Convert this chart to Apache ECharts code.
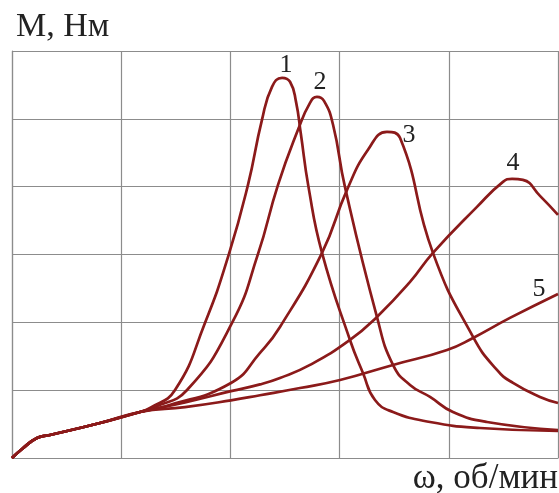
<!DOCTYPE html>
<html>
<head>
<meta charset="utf-8">
<script src="https://cdn.jsdelivr.net/npm/echarts@6/dist/echarts.min.js"></script>
<style>
html,body{margin:0;padding:0;background:#fff;}
#c{width:559px;height:493px;}
</style>
</head>
<body>
<div id="c"></div>
<script>
// Shared starting part of all curves [omega, M] in grid units
var common = [[0,0],[0.092,0.133],[0.229,0.295],[0.348,0.339],[0.806,0.516],[1.172,0.678]];

var curve1 = [[1.264,0.737],[1.493,1.003],[1.767,1.991],[1.987,3.009],[2.161,4.027],[2.289,4.985],[2.381,5.472],[2.473,5.605],[2.546,5.546],[2.601,5.250],[2.645,4.780],[2.715,3.997],[2.839,3.024],[3.095,1.740],[3.214,1.254],[3.324,0.855],[3.489,0.678],[3.828,0.531],[4.286,0.442],[5.0,0.398]];
var curve2 = [[1.310,0.752],[1.603,1.003],[2.015,1.991],[2.253,3.009],[2.436,4.027],[2.619,4.838],[2.729,5.236],[2.793,5.324],[2.857,5.265],[2.940,4.912],[3.049,3.997],[3.342,2.080],[3.489,1.372],[3.645,1.077],[3.828,0.900],[4.038,0.678],[4.350,0.531],[5.0,0.413]];
var curve3 = [[1.401,0.760],[2.005,1.106],[2.271,1.549],[2.454,1.932],[2.839,3.024],[3.068,3.953],[3.260,4.543],[3.434,4.808],[3.553,4.720],[3.855,3.024],[4.222,1.785],[4.441,1.298],[4.588,1.106],[4.835,0.900],[5.0,0.811]];
var curve4 = [[1.584,0.820],[2.005,0.985],[2.271,1.085],[2.454,1.180],[2.729,1.372],[3.095,1.740],[3.342,2.080],[3.645,2.596],[3.855,3.024],[4.258,3.702],[4.496,4.071],[4.579,4.115],[4.679,4.100],[4.835,3.864],[5.0,3.584]];
var curve5 = [[1.584,0.750],[2.005,0.850],[2.271,0.925],[2.637,1.032],[3.004,1.150],[3.489,1.372],[3.984,1.593],[4.222,1.770],[4.560,2.065],[5.0,2.419]];

var curveLabels = ['1','2','3','4','5'];
var yTitle = 'М, Нм';
var xTitle = 'ω, об/мин';

var curves = [curve1, curve2, curve3, curve4, curve5];
var lineColor = '#8b1a1a';
var gridColor = '#8c8c8c';

var chart = echarts.init(document.getElementById('c'), null, {renderer:'canvas'});
var series = curves.map(function(c, i){
  return {
    type:'line', name: curveLabels[i],
    data: common.concat(c),
    smooth: 0.5,
    showSymbol:false, symbol:'none',
    lineStyle:{color:lineColor, width:2.7},
    silent:true, animation:false
  };
});
var labelPos = [[286,65],[320,82],[409,135],[513,163],[539,289]];
var serif = '"Liberation Serif","Times New Roman",serif';
var graphics = labelPos.map(function(p,i){
  return {type:'text', x:p[0], y:p[1], style:{text:curveLabels[i], font:'26px '+serif, fill:'#222', align:'center', verticalAlign:'middle'}};
});
graphics.push({type:'text', x:16, y:27, style:{text:yTitle, font:'34px '+serif, fill:'#222', align:'left', verticalAlign:'middle'}});
graphics.push({type:'text', x:558, y:479, style:{text:xTitle, font:'35px '+serif, fill:'#222', align:'right', verticalAlign:'middle'}});

chart.setOption({
  animation:false,
  backgroundColor:'#fff',
  grid:{left:12, right:1, top:51, bottom:35, containLabel:false},
  xAxis:{type:'value', min:0, max:5, interval:1,
    axisLabel:{show:false}, axisTick:{show:false},
    axisLine:{show:true, lineStyle:{color:gridColor, width:1.2}},
    splitLine:{show:true, lineStyle:{color:gridColor, width:1.2}}},
  yAxis:{type:'value', min:0, max:6, interval:1,
    axisLabel:{show:false}, axisTick:{show:false},
    axisLine:{show:true, lineStyle:{color:gridColor, width:1.2}},
    splitLine:{show:true, lineStyle:{color:gridColor, width:1.2}}},
  series: series,
  graphic: graphics
});
</script>
</body>
</html>
